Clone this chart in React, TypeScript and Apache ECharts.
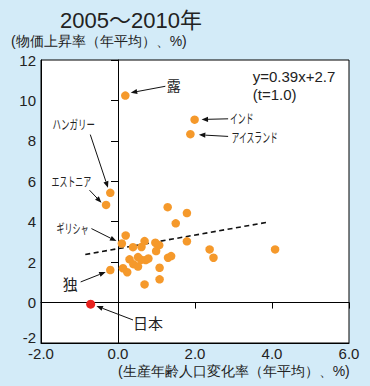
import React, { useEffect, useRef } from "react";
import * as echarts from "echarts";

const titleText = "2005～2010年";
const yAxisName = "(物価上昇率（年平均）、%)";
const xAxisName = "(生産年齢人口変化率（年平均）、%)";

const xMin = -2;
const xMax = 6;
const xStep = 2;
const yMin = -2;
const yMax = 12;
const yStep = 2;

// unlabelled countries (x: working-age population change, y: inflation)
const otherX = [0.2, 0.39, 0.61, 0.69, 0.97, 1.07, 0.99, 0.3, 0.4, 0.52, 0.52, 0.6, 0.72, 0.79, 0.13, 0.24, 1.08, 1.08, 0.69, 1.3, 1.38, 1.29, 1.79, 1.5, 1.79, 2.38, 2.48, 4.08];
const otherY = [3.32, 2.74, 2.75, 3.04, 2.96, 2.84, 2.55, 2.14, 1.9, 2.25, 1.78, 2.12, 2.1, 2.18, 1.7, 1.5, 1.72, 1.15, 0.9, 2.22, 2.3, 4.72, 4.43, 3.92, 3.03, 2.63, 2.22, 2.63];

// labelled countries
const namedCountries = ["露", "インド", "アイスランド", "ハンガリー", "エストニア", "ギリシャ", "独"];
const namedX = [0.19, 1.99, 1.88, -0.2, -0.31, 0.1, -0.2];
const namedY = [10.24, 9.05, 8.33, 5.43, 4.83, 2.92, 1.61];

const japanName = "日本";
const japanX = [-0.71];
const japanY = [-0.08];

// regression line y=0.39x+2.7 as drawn
const trendX = [-0.85, 3.9];
const trendY = [2.38, 3.98];

const equationTexts = ["y=0.39x+2.7", "(t=1.0)"];

// annotation label anchors (data coords) and arrows (data coords)
const annoTexts = ["露", "インド", "アイスランド", "ハンガリー", "エストニア", "ギリシャ", "独", "日本", equationTexts[0], equationTexts[1]];
const annoX = [1.45, 2.91, 2.95, -1.15, -1.21, -1.18, -1.24, 0.78, 3.5, 3.5];
const annoY = [10.7, 9.11, 8.17, 8.81, 6.01, 3.7, 0.9, -1.02, 11.17, 10.28];
const arrowFromX = [1.23, 2.86, 2.86, -0.72, -0.74, -0.69, -0.97, 0.39, NaN, NaN];
const arrowFromY = [10.7, 9.09, 8.22, 8.31, 5.56, 3.66, 1.02, -0.86, NaN, NaN];
const arrowToX = [0.33, 2.17, 2.1, -0.26, -0.43, -0.04, -0.32, -0.56, NaN, NaN];
const arrowToY = [10.38, 9.06, 8.3, 5.68, 4.94, 3.04, 1.51, -0.17, NaN, NaN];

// text styles of the annotations
const annoStyle = [
  { size: 14, scale: 1, align: "center" },
  { size: 13, scale: 0.6, align: "left" },
  { size: 13, scale: 0.6, align: "left" },
  { size: 13, scale: 0.65, align: "center" },
  { size: 13, scale: 0.61, align: "center" },
  { size: 13, scale: 0.62, align: "center" },
  { size: 15, scale: 1, align: "center" },
  { size: 15, scale: 1, align: "center" },
  { size: 15, scale: 1, align: "left" },
  { size: 15, scale: 1, align: "left" },
];

const FONT = "'Liberation Sans', Arial, 'Noto Sans CJK JP', sans-serif";
const TEXT = "#222";
const ORANGE = "#f5992b";
const RED = "#e8221e";
const BG = "#d3ebf8";

export default function App() {
  const ref = useRef<HTMLDivElement>(null);

  useEffect(() => {
    if (!ref.current) return;
    const chart = echarts.init(ref.current, undefined, { renderer: "svg" });

    const otherData = otherX.map((x, i) => [x, otherY[i]]);
    const namedData = namedX.map((x, i) => ({ name: namedCountries[i], value: [x, namedY[i]] }));
    const japanData = japanX.map((x, i) => ({ name: japanName, value: [x, japanY[i]] }));
    const trendData = trendX.map((x, i) => [x, trendY[i]]);
    const annoData = annoX.map((x, i) => [x, annoY[i]]);

    const option: any = {
      animation: false,
      backgroundColor: BG,
      textStyle: { fontFamily: FONT },
      title: {
        text: titleText,
        left: 55,
        top: 4,
        textStyle: { fontSize: 22, fontWeight: "normal", color: TEXT, fontFamily: FONT },
      },
      graphic: [
        {
          type: "text",
          left: 11,
          top: 34,
          style: { text: yAxisName, fontSize: 14, fill: TEXT, font: `14px ${FONT}` },
        },
        {
          type: "text",
          left: 118,
          top: 364,
          style: { text: xAxisName, fontSize: 14, fill: TEXT, font: `14px ${FONT}` },
        },
      ],
      grid: {
        left: 41,
        right: 21,
        top: 60,
        bottom: 43,
        show: true,
        backgroundColor: "#fff",
        borderColor: "#000",
        borderWidth: 1,
      },
      xAxis: [
        {
          type: "value",
          min: xMin,
          max: xMax,
          interval: xStep,
          position: "bottom",
          axisLine: { show: true, onZero: false, lineStyle: { color: "#000", width: 1 } },
          axisTick: { show: false },
          splitLine: { show: false },
          axisLabel: {
            color: TEXT,
            fontSize: 15,
            margin: 3,
            fontFamily: FONT,
            formatter: (v: number) => v.toFixed(1),
          },
        },
        {
          type: "value",
          min: xMin,
          max: xMax,
          interval: xStep,
          axisLine: { show: true, onZero: true, onZeroAxisIndex: 0, lineStyle: { color: "#000", width: 1 } },
          axisTick: { show: true, inside: true, length: 6, lineStyle: { color: "#000", width: 1 } },
          splitLine: { show: false },
          axisLabel: { show: false },
        },
      ],
      yAxis: [
        {
          type: "value",
          min: yMin,
          max: yMax,
          interval: yStep,
          position: "left",
          axisLine: { show: true, onZero: false, lineStyle: { color: "#000", width: 1 } },
          axisTick: { show: false },
          splitLine: { show: false },
          axisLabel: {
            color: TEXT,
            fontSize: 15,
            margin: 5,
            fontFamily: FONT,
            formatter: (v: number) => (v === yMin ? "{lo|" + v + "}" : String(v)),
            rich: { lo: { fontSize: 15, color: TEXT, fontFamily: FONT, padding: [0, 0, 11, 0] } },
          },
        },
        {
          type: "value",
          min: yMin,
          max: yMax,
          interval: yStep,
          axisLine: { show: true, onZero: true, onZeroAxisIndex: 0, lineStyle: { color: "#000", width: 1 } },
          axisTick: { show: true, inside: true, length: 7, lineStyle: { color: "#000", width: 1 } },
          splitLine: { show: false },
          axisLabel: { show: false },
        },
      ],
      series: [
        {
          type: "line",
          data: trendData,
          xAxisIndex: 0,
          yAxisIndex: 0,
          symbol: "none",
          lineStyle: { color: "#111", width: 1.6, type: [5, 3.5] },
          z: 3,
        },
        {
          type: "scatter",
          data: otherData,
          xAxisIndex: 0,
          yAxisIndex: 0,
          symbolSize: 8.5,
          itemStyle: { color: ORANGE, opacity: 1 },
          z: 4,
        },
        {
          type: "scatter",
          data: namedData,
          xAxisIndex: 0,
          yAxisIndex: 0,
          symbolSize: 8.5,
          itemStyle: { color: ORANGE, opacity: 1 },
          z: 4,
        },
        {
          type: "scatter",
          data: japanData,
          xAxisIndex: 0,
          yAxisIndex: 0,
          symbolSize: 9,
          itemStyle: { color: RED, opacity: 1 },
          z: 4,
        },
        {
          type: "custom",
          xAxisIndex: 0,
          yAxisIndex: 0,
          data: annoData,
          z: 5,
          silent: true,
          renderItem: (params: any, api: any) => {
            const i = params.dataIndex;
            const st = annoStyle[i];
            const p = api.coord([annoX[i], annoY[i]]);
            const children: any[] = [
              {
                type: "text",
                x: p[0],
                y: p[1],
                scaleX: st.scale,
                style: {
                  text: annoTexts[i],
                  fontSize: st.size,
                  fontFamily: FONT,
                  fill: TEXT,
                  align: st.align,
                  verticalAlign: "middle",
                },
              },
            ];
            if (!isNaN(arrowFromX[i])) {
              const s = api.coord([arrowFromX[i], arrowFromY[i]]);
              const e = api.coord([arrowToX[i], arrowToY[i]]);
              const dx = e[0] - s[0];
              const dy = e[1] - s[1];
              const len = Math.sqrt(dx * dx + dy * dy);
              const ux = dx / len;
              const uy = dy / len;
              const head = 6.5;
              const hw = 2.6;
              const bx = e[0] - ux * head;
              const by = e[1] - uy * head;
              children.push({
                type: "line",
                shape: { x1: s[0], y1: s[1], x2: bx, y2: by },
                style: { stroke: "#111", lineWidth: 1 },
              });
              children.push({
                type: "polygon",
                shape: {
                  points: [
                    [e[0], e[1]],
                    [bx - uy * hw, by + ux * hw],
                    [bx + uy * hw, by - ux * hw],
                  ],
                },
                style: { fill: "#111" },
              });
            }
            return { type: "group", children };
          },
        },
      ],
    };

    chart.setOption(option);
    return () => chart.dispose();
  }, []);

  return (
    <div
      ref={ref}
      style={{ width: 370, height: 386, position: "absolute", left: 0, top: 0 }}
    />
  );
}
